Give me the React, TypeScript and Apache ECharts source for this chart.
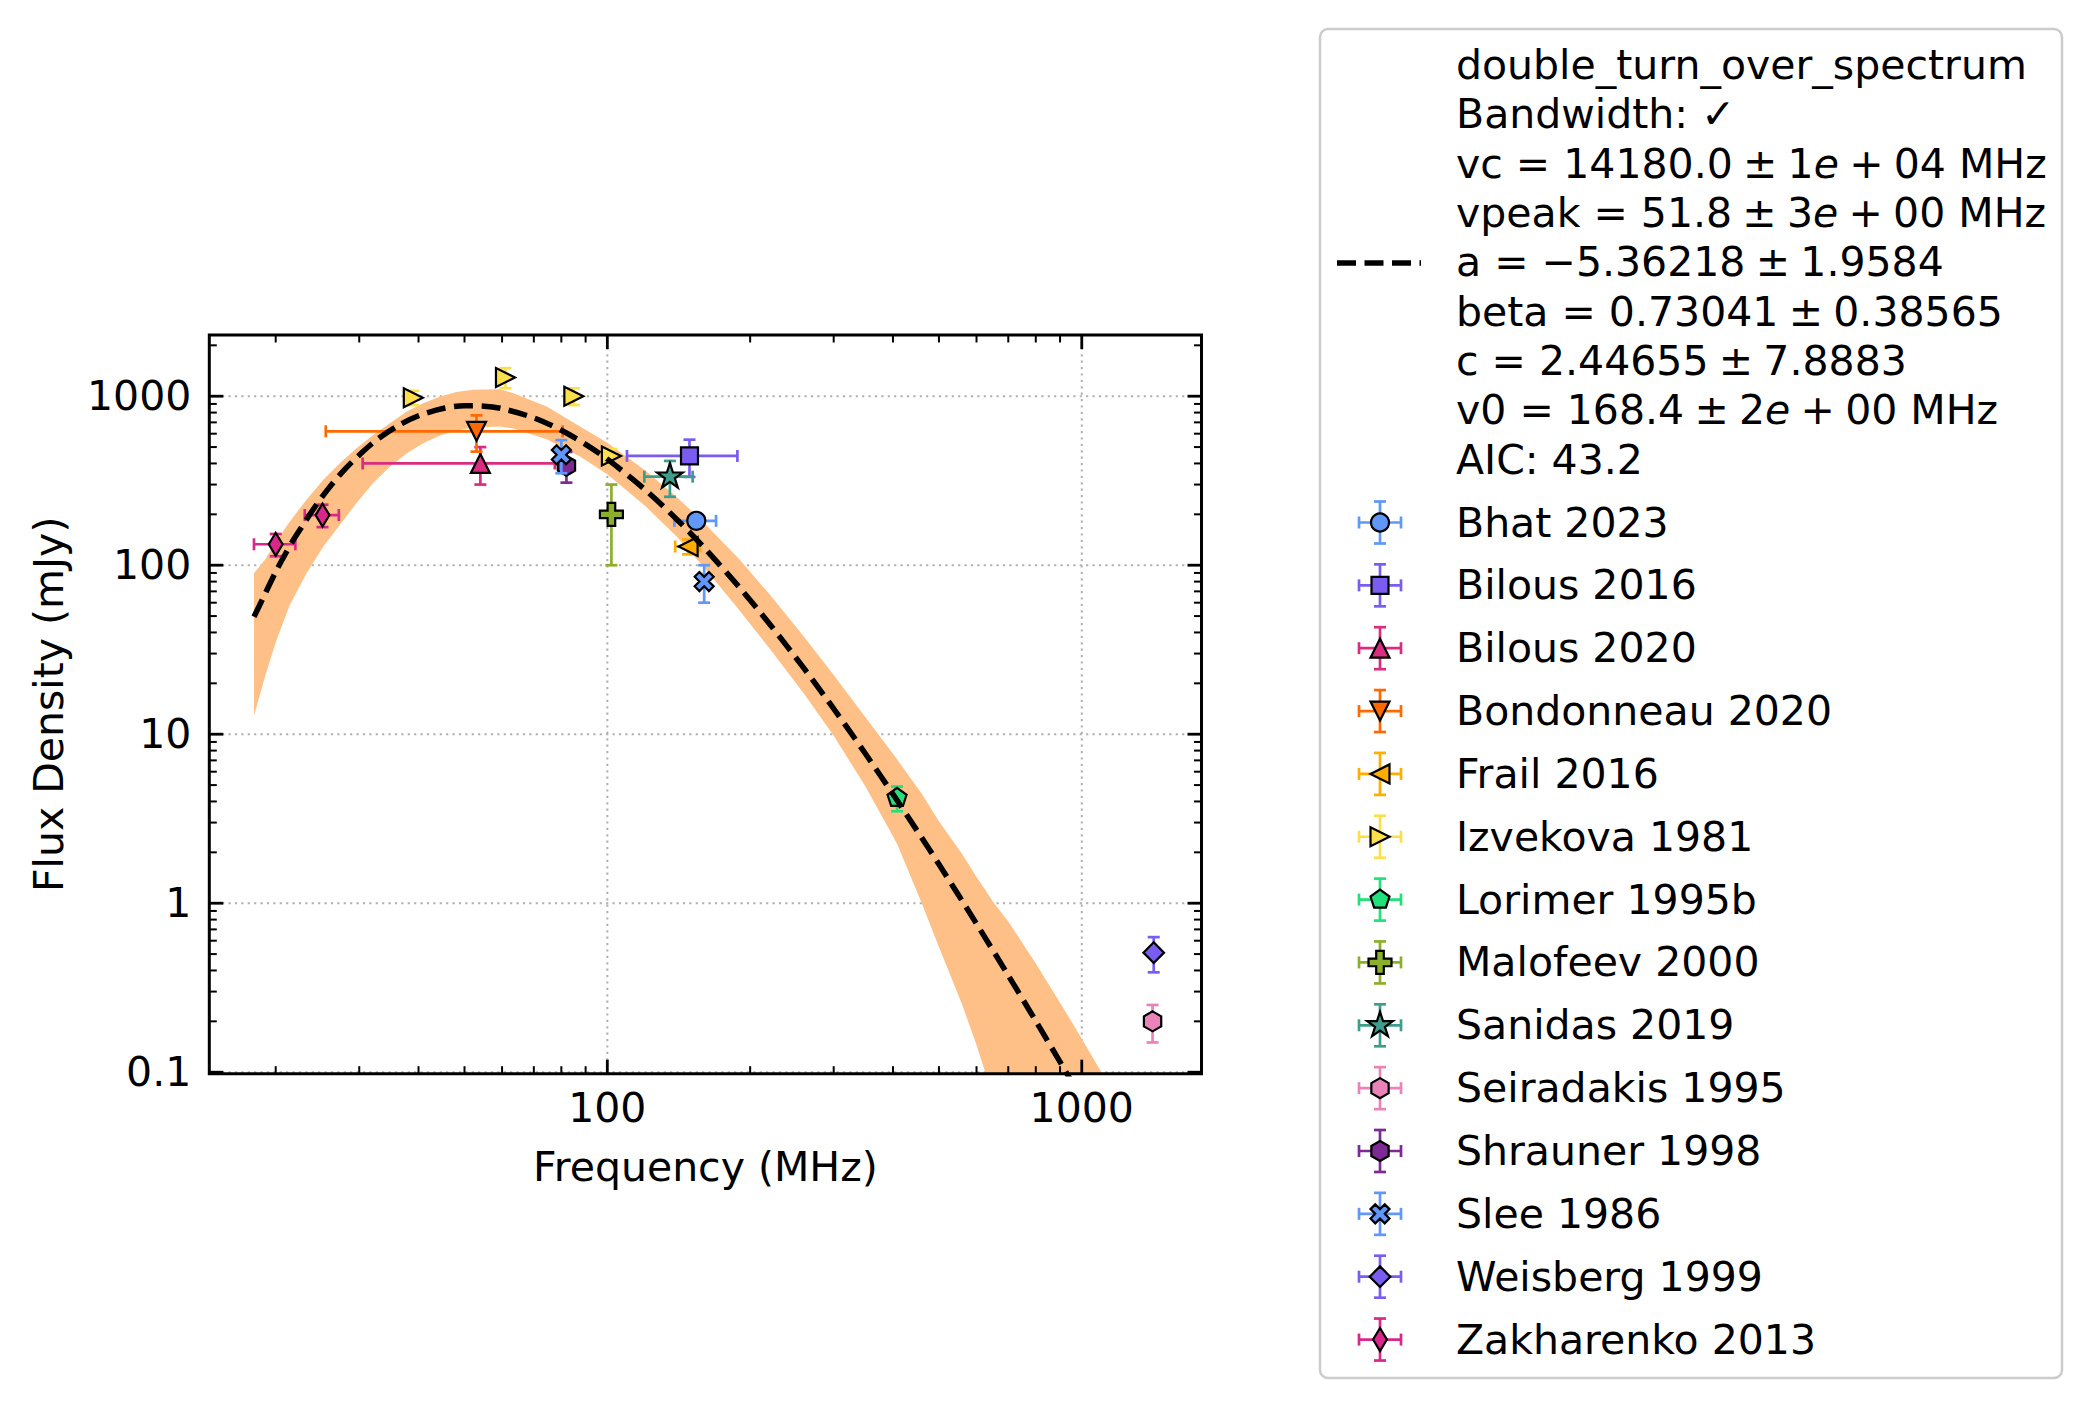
import { useEffect, useRef } from 'react';
import * as echarts from 'echarts';

const FONT = 'DejaVu Sans';
const FS = 41;

// ---- axis ranges (log scales) ----
const freqRange = [14.49, 1788];
const fluxRange = [0.098, 2302];

// ---- ticks ----
const xMajorTicks = [100, 1000];
const xTickLabels = ['100', '1000'];
const xMinorTicks = [20, 30, 40, 50, 60, 70, 80, 90, 200, 300, 400, 500, 600, 700, 800, 900];
const yMajorTicks = [0.1, 1, 10, 100, 1000];
const yTickLabels = ['0.1', '1', '10', '100', '1000'];
const yMinorTicks = [
  0.2, 0.3, 0.4, 0.5, 0.6, 0.7, 0.8, 0.9, 2, 3, 4, 5, 6, 7, 8, 9,
  20, 30, 40, 50, 60, 70, 80, 90, 200, 300, 400, 500, 600, 700, 800, 900, 2000,
];

// ---- fitted double turn-over spectrum (mJy) ----
const fitFreq = [18, 19, 20, 21, 22, 25, 28, 32, 36, 40, 45, 50, 55, 60, 70, 80, 90, 100, 120, 140, 160, 190, 220, 260, 300, 350, 408, 500, 600, 700, 800, 900, 1000, 1100];
const fitFlux = [49.5, 67.8, 91.4, 117.7, 147.3, 252.2, 370.4, 527.4, 662.9, 765.6, 845.3, 877.5, 873.3, 843.8, 744.5, 628.6, 518.9, 424.0, 280.6, 187.1, 127.0, 73.75, 44.76, 24.43, 14.15, 7.661, 4.065, 1.698, 0.7554, 0.3738, 0.2008, 0.115, 0.0694, 0.0437];

// ---- fit uncertainty band (mJy) ----
const bandFreq = [18, 19, 20, 21.4, 23.2, 25.2, 27.3, 29.6, 32.1, 34.8, 37.8, 40.9, 44.4, 48.1, 52.2, 59.4, 63.4, 74.5, 87.6, 100, 120, 140, 160, 190, 220, 260, 300, 350, 408, 460, 500, 560, 600, 626, 650, 700, 800, 900, 1000, 1100, 1200];
const bandLower = [12.9, 22, 35, 58, 89, 129, 173, 233, 306, 383, 460, 527, 585, 626, 652, 661, 645, 557, 439, 345, 225, 148, 97, 54, 32, 17.3, 9.8, 4.9, 2.25, 1.0, 0.55, 0.25, 0.145, 0.1, 0.06, 0.022, 0.003, 0.0003, 0.00002, 0.000001, 0.0000001];
const bandUpper = [89.6, 108, 137, 181, 243, 320, 401, 492, 590, 692, 811, 909, 995, 1060, 1090, 1100, 1042, 868, 661, 530, 364, 253, 178, 108, 67, 37.6, 22.4, 12.6, 7.1, 4.45, 3.05, 1.95, 1.43, 1.2, 1.02, 0.78, 0.44, 0.258, 0.158, 0.1, 0.062];

// ---- measurements: [freq MHz, flux mJy, freq error, flux error] ----
const bhat2023 = [[154, 183, 15.5, 18]];
const bilous2016 = [[149, 443, 39, 110]];
const bilous2020 = [[54, 400, 23.5, 100]];
const bondonneau2020 = [[53, 620, 27.5, 150]];
const frail2016 = [[148, 129, 9, 13]];
const izvekova1981 = [[39, 980, 0, 95], [61, 1290, 0, 175], [85, 1000, 0, 113], [102, 443, 0, 44]];
const lorimer1995b = [[408, 4.2, 0, 0.7]];
const malofeev2000 = [[102, 200, 0, 100]];
const sanidas2019 = [[135.5, 334, 15.8, 80]];
const seiradakis1995 = [[1410, 0.2, 0, 0.05]];
const shrauner1998 = [[82, 388, 0, 80]];
const slee1986 = [[80, 450, 0, 100], [160, 80, 0, 20]];
const weisberg1999 = [[1418, 0.51, 0, 0.12]];
const zakharenko2013 = [[20, 133, 2, 20], [25.1, 198, 2.07, 30]];

// narrower spacing around the math operators
const OP = '\u2005';
const fitLegendLines = [
  'double_turn_over_spectrum',
  'Bandwidth: \u2713',
  `vc = 14180.0${OP}\u00b1${OP}1{i|e}${OP}+${OP}04 MHz`,
  `vpeak = 51.8${OP}\u00b1${OP}3{i|e}${OP}+${OP}00 MHz`,
  `a = \u22125.36218${OP}\u00b1${OP}1.9584`,
  `beta = 0.73041${OP}\u00b1${OP}0.38565`,
  `c = 2.44655${OP}\u00b1${OP}7.8883`,
  `v0 = 168.4${OP}\u00b1${OP}2{i|e}${OP}+${OP}00 MHz`,
  'AIC: 43.2',
];

// ---- styling ----
const GRID = { left: 209.3, top: 335, right: 1201.5, bottom: 1073.7 };
const BAND_COLOR = '#fec087';
const GRID_COLOR = '#b0b0b0';
const ERR_W = 2.7;
const CAP = 6;
const FIT_WIDTH = 5.5;
const FIT_DASH = [19, 8.5];

type Pt = [number, number];

const regular = (n: number, r: number): Pt[] =>
  Array.from({ length: n }, (_, k) => {
    const a = -Math.PI / 2 + (2 * Math.PI * k) / n;
    return [r * Math.cos(a), r * Math.sin(a)] as Pt;
  });

const star = (R: number, r: number): Pt[] =>
  Array.from({ length: 10 }, (_, k) => {
    const a = -Math.PI / 2 + (Math.PI * k) / 5;
    const rad = k % 2 === 0 ? R : r;
    return [rad * Math.cos(a), rad * Math.sin(a)] as Pt;
  });

const plusShape = (r: number, a: number): Pt[] => [
  [-a, -r], [a, -r], [a, -a], [r, -a], [r, a], [a, a],
  [a, r], [-a, r], [-a, a], [-r, a], [-r, -a], [-a, -a],
];

const xShape = (u: number): Pt[] =>
  ([[-1, -2], [0, -1], [1, -2], [2, -1], [1, 0], [2, 1], [1, 2], [0, 1], [-1, 2], [-2, 1], [-1, 0], [-2, -1]] as Pt[])
    .map(([x, y]) => [x * u, y * u] as Pt);

const SHAPES: Record<string, Pt[] | null> = {
  circle: null,
  square: [[-8.5, -8.5], [8.5, -8.5], [8.5, 8.5], [-8.5, 8.5]],
  triUp: [[0, -9.5], [-9.5, 9.5], [9.5, 9.5]],
  triDown: [[0, 9.5], [-9.5, -9.5], [9.5, -9.5]],
  triLeft: [[-9.5, 0], [9.5, -9.5], [9.5, 9.5]],
  triRight: [[9.5, 0], [-9.5, -9.5], [-9.5, 9.5]],
  pentagon: regular(5, 10),
  plus: plusShape(11.5, 3.8),
  star: star(13.5, 5.2),
  hexagon: regular(6, 10),
  xFilled: xShape(4.75),
  diamond: [[0, -10.3], [10.3, 0], [0, 10.3], [-10.3, 0]],
  thinDiamond: [[0, -11.5], [6.9, 0], [0, 11.5], [-6.9, 0]],
};

const DATASETS = [
  { name: 'Bhat 2023', points: bhat2023, color: '#6097f8', marker: 'circle' },
  { name: 'Bilous 2016', points: bilous2016, color: '#7a5cf0', marker: 'square' },
  { name: 'Bilous 2020', points: bilous2020, color: '#d92d80', marker: 'triUp' },
  { name: 'Bondonneau 2020', points: bondonneau2020, color: '#ff6a00', marker: 'triDown' },
  { name: 'Frail 2016', points: frail2016, color: '#ffad00', marker: 'triLeft' },
  { name: 'Izvekova 1981', points: izvekova1981, color: '#fbdf4b', marker: 'triRight' },
  { name: 'Lorimer 1995b', points: lorimer1995b, color: '#22e07a', marker: 'pentagon' },
  { name: 'Malofeev 2000', points: malofeev2000, color: '#8caf2b', marker: 'plus' },
  { name: 'Sanidas 2019', points: sanidas2019, color: '#3e9e8c', marker: 'star' },
  { name: 'Seiradakis 1995', points: seiradakis1995, color: '#e884b9', marker: 'hexagon' },
  { name: 'Shrauner 1998', points: shrauner1998, color: '#7d2a94', marker: 'hexagon' },
  { name: 'Slee 1986', points: slee1986, color: '#6097f8', marker: 'xFilled' },
  { name: 'Weisberg 1999', points: weisberg1999, color: '#7a5cf0', marker: 'diamond' },
  { name: 'Zakharenko 2013', points: zakharenko2013, color: '#d9278a', marker: 'thinDiamond' },
];

function markerEl(kind: string, cx: number, cy: number, color: string): any {
  const style = { fill: color, stroke: '#000', lineWidth: 2.2 };
  const pts = SHAPES[kind];
  if (!pts) return { type: 'circle', shape: { cx, cy, r: 9 }, style };
  return { type: 'polygon', shape: { points: pts.map(([x, y]) => [cx + x, cy + y]) }, style };
}

function seg(x1: number, y1: number, x2: number, y2: number, stroke: string, lineWidth: number, extra: any = {}): any {
  return { type: 'line', shape: { x1, y1, x2, y2 }, style: { stroke, lineWidth, ...extra } };
}

function hBar(x1: number, x2: number, y: number, color: string): any[] {
  return [
    seg(x1, y, x2, y, color, ERR_W),
    seg(x1, y - CAP, x1, y + CAP, color, ERR_W),
    seg(x2, y - CAP, x2, y + CAP, color, ERR_W),
  ];
}

function vBar(x: number, y1: number, y2: number, color: string): any[] {
  return [
    seg(x, y1, x, y2, color, ERR_W),
    seg(x - CAP, y1, x + CAP, y1, color, ERR_W),
    seg(x - CAP, y2, x + CAP, y2, color, ERR_W),
  ];
}

function textEl(text: string, x: number, y: number, align: string, extra: any = {}): any {
  return {
    type: 'text',
    x,
    y,
    style: {
      text,
      fill: '#000',
      fontSize: FS,
      fontFamily: FONT,
      align,
      verticalAlign: 'middle',
      textAlign: align,
      textVerticalAlign: 'middle',
      ...extra,
    },
  };
}

function legendElements(): any[] {
  const els: any[] = [];
  els.push({
    type: 'rect',
    shape: { x: 1320, y: 29, width: 742, height: 1349, r: 8 },
    style: { fill: '#ffffff', stroke: '#cccccc', lineWidth: 2.5 },
  });
  const textX = 1456;
  fitLegendLines.forEach((line, i) => {
    els.push(
      textEl(line, textX, 65 + i * 49.35, 'left', {
        rich: { i: { fontStyle: 'italic', fontSize: FS, fontFamily: FONT, fill: '#000' } },
      }),
    );
  });
  els.push(seg(1337, 263, 1421, 263, '#000', FIT_WIDTH, { lineDash: FIT_DASH }));
  DATASETS.forEach((ds, i) => {
    const cy = 522.5 + i * 62.85;
    const cx = 1380;
    els.push(...hBar(cx - 21, cx + 21, cy, ds.color));
    els.push(...vBar(cx, cy - 21, cy + 21, ds.color));
    els.push(markerEl(ds.marker, cx, cy, ds.color));
    els.push(textEl(ds.name, textX, cy, 'left'));
  });
  return els.map((e) => ({ ...e, z: 100 }));
}

function buildOption(): any {
  const gridSeries = {
    type: 'custom',
    coordinateSystem: 'cartesian2d',
    z: 0,
    silent: true,
    data: [[100, 1]],
    renderItem: (params: any, api: any) => {
      const cs = params.coordSys;
      const dash = { lineDash: [2.2, 4.2] };
      const children: any[] = [];
      xMajorTicks.forEach((v) => {
        const x = api.coord([v, 1])[0];
        children.push(seg(x, cs.y, x, cs.y + cs.height, GRID_COLOR, 2, dash));
      });
      yMajorTicks.forEach((v) => {
        const y = api.coord([100, v])[1];
        children.push(seg(cs.x, y, cs.x + cs.width, y, GRID_COLOR, 2, dash));
      });
      return { type: 'group', children };
    },
  };

  const bandSeries = {
    type: 'custom',
    coordinateSystem: 'cartesian2d',
    z: 1,
    silent: true,
    clip: true,
    data: [[100, 100]],
    renderItem: (_params: any, api: any) => {
      const pts: number[][] = [];
      bandFreq.forEach((f, i) => pts.push(api.coord([f, bandUpper[i]])));
      for (let i = bandFreq.length - 1; i >= 0; i--) pts.push(api.coord([bandFreq[i], bandLower[i]]));
      return { type: 'polygon', shape: { points: pts }, style: { fill: BAND_COLOR } };
    },
  };

  const dataSeries = DATASETS.map((ds) => ({
    type: 'custom',
    name: ds.name,
    coordinateSystem: 'cartesian2d',
    z: 3,
    silent: true,
    dimensions: ['freq', 'flux', 'freqErr', 'fluxErr'],
    encode: { x: 0, y: 1 },
    data: ds.points,
    renderItem: (_params: any, api: any) => {
      const f = api.value(0);
      const s = api.value(1);
      const fe = api.value(2);
      const se = api.value(3);
      const c = api.coord([f, s]);
      const children: any[] = [];
      if (fe > 0) {
        const l = api.coord([f - fe, s]);
        const r = api.coord([f + fe, s]);
        children.push(...hBar(l[0], r[0], c[1], ds.color));
      }
      if (se > 0) {
        const t = api.coord([f, s + se]);
        const b = api.coord([f, s - se]);
        children.push(...vBar(c[0], t[1], b[1], ds.color));
      }
      children.push(markerEl(ds.marker, c[0], c[1], ds.color));
      return { type: 'group', children };
    },
  }));

  const fitSeries = {
    type: 'line',
    name: 'double_turn_over_spectrum',
    z: 4,
    silent: true,
    showSymbol: false,
    symbol: 'none',
    smooth: 0.3,
    clip: true,
    data: fitFreq.map((f, i) => [f, fitFlux[i]]),
    lineStyle: { color: '#000', width: FIT_WIDTH, type: FIT_DASH },
  };

  const decorSeries = {
    type: 'custom',
    coordinateSystem: 'cartesian2d',
    z: 10,
    silent: true,
    data: [[100, 1]],
    renderItem: (params: any, api: any) => {
      const cs = params.coordSys;
      const left = cs.x;
      const top = cs.y;
      const right = cs.x + cs.width;
      const bottom = cs.y + cs.height;
      const children: any[] = [];
      const MAJ = 14;
      const MIN = 7.5;
      xMajorTicks.forEach((v, i) => {
        const x = api.coord([v, 1])[0];
        children.push(seg(x, bottom, x, bottom - MAJ, '#000', 2.8));
        children.push(seg(x, top, x, top + MAJ, '#000', 2.8));
        children.push(textEl(xTickLabels[i], x, bottom + 34, 'center'));
      });
      xMinorTicks.forEach((v) => {
        const x = api.coord([v, 1])[0];
        children.push(seg(x, bottom, x, bottom - MIN, '#000', 2));
        children.push(seg(x, top, x, top + MIN, '#000', 2));
      });
      yMajorTicks.forEach((v, i) => {
        const y = api.coord([100, v])[1];
        children.push(seg(left, y, left + MAJ, y, '#000', 2.8));
        children.push(seg(right, y, right - MAJ, y, '#000', 2.8));
        children.push(textEl(yTickLabels[i], left - 18, y, 'right'));
      });
      yMinorTicks.forEach((v) => {
        const y = api.coord([100, v])[1];
        children.push(seg(left, y, left + MIN, y, '#000', 2));
        children.push(seg(right, y, right - MIN, y, '#000', 2));
      });
      children.push({
        type: 'rect',
        shape: { x: left, y: top, width: cs.width, height: cs.height },
        style: { fill: 'none', stroke: '#000', lineWidth: 3 },
      });
      return { type: 'group', children };
    },
  };

  const hidden = {
    axisLine: { show: false },
    axisTick: { show: false },
    axisLabel: { show: false },
    splitLine: { show: false },
    minorTick: { show: false },
    minorSplitLine: { show: false },
  };
  const nameStyle = { fontSize: FS, fontFamily: FONT, color: '#000' };

  return {
    animation: false,
    backgroundColor: '#ffffff',
    textStyle: { fontFamily: FONT },
    grid: {
      left: GRID.left,
      top: GRID.top,
      width: GRID.right - GRID.left,
      height: GRID.bottom - GRID.top,
      show: false,
      containLabel: false,
      outerBoundsMode: 'none',
    },
    xAxis: {
      type: 'log',
      logBase: 10,
      min: freqRange[0],
      max: freqRange[1],
      ...hidden,
      name: 'Frequency (MHz)',
      nameLocation: 'middle',
      nameGap: 73,
      nameTextStyle: nameStyle,
    },
    yAxis: {
      type: 'log',
      logBase: 10,
      min: fluxRange[0],
      max: fluxRange[1],
      ...hidden,
      name: 'Flux Density (mJy)',
      nameLocation: 'middle',
      nameRotate: 90,
      nameGap: 140,
      nameTextStyle: nameStyle,
    },
    graphic: { elements: legendElements() },
    series: [gridSeries, bandSeries, ...dataSeries, fitSeries, decorSeries],
  };
}

export default function App() {
  const ref = useRef<HTMLDivElement>(null);
  useEffect(() => {
    document.body.style.margin = '0';
    document.body.style.overflow = 'hidden';
    const chart = echarts.init(ref.current as HTMLDivElement, null, { renderer: 'svg' });
    chart.setOption(buildOption());
    return () => chart.dispose();
  }, []);
  return <div ref={ref} style={{ width: 2091, height: 1409, background: '#ffffff' }} />;
}
